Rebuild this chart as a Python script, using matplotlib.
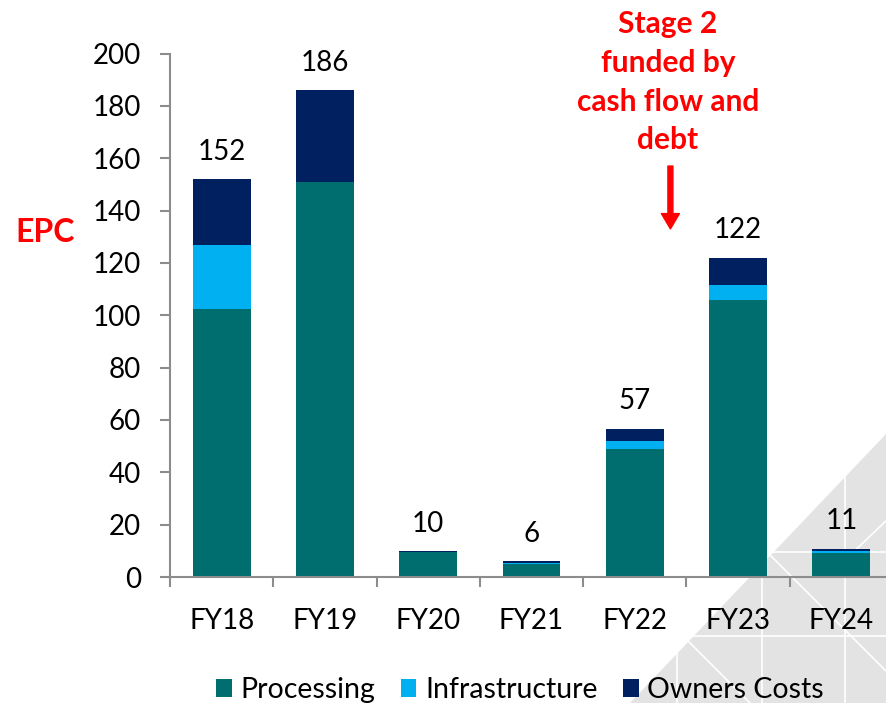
import matplotlib
matplotlib.use("Agg")
import matplotlib.pyplot as plt
import numpy as np

plt.rcParams["font.family"] = ["Lato", "DejaVu Sans"]

# DATA
years = ["FY18", "FY19", "FY20", "FY21", "FY22", "FY23", "FY24"]
processing = [102.5, 151.0, 9.7, 5.1, 49.0, 106.0, 9.3]
infrastructure = [24.5, 0.0, 0.0, 0.3, 2.9, 5.7, 0.5]
owners_costs = [25.0, 35.0, 0.2, 0.6, 4.7, 10.3, 1.0]

C_PROC = "#006D6F"
C_INFRA = "#00B0F0"
C_OWN = "#002060"
W, H = 887, 703

fig = plt.figure(figsize=(W / 100, H / 100), dpi=100)

# background decoration in pixel coords (light grey triangle, thin white lines)
bg = fig.add_axes([0, 0, 1, 1], zorder=0)
bg.set_xlim(0, W)
bg.set_ylim(H, 0)
bg.axis("off")
bg.fill([630, 887, 887], [703, 433, 703], color="#E3E3E3", lw=0)
for (x0, y0), (x1, y1) in [((767, 552), (887, 552)), ((683, 636), (887, 636)),
                           ((845, 477), (845, 703)), ((762, 552), (762, 703)),
                           ((677, 636), (677, 703)), ((767, 552), (887, 672)),
                           ((683, 636), (750, 703)), ((845, 560), (887, 520))]:
    bg.plot([x0, x1], [y0, y1], color="white", lw=1.2)

ax = fig.add_axes([170 / W, 1 - 577 / H, (893 - 170) / W, (577 - 53.5) / H], zorder=2)
ax.set_facecolor("none")

x = np.arange(len(years))
bw = 0.56
proc = np.array(processing)
infra = np.array(infrastructure)
own = np.array(owners_costs)
ax.bar(x, proc, bw, color=C_PROC, label="Processing", zorder=2)
ax.bar(x, infra, bw, bottom=proc, color=C_INFRA, label="Infrastructure", zorder=2)
ax.bar(x, own, bw, bottom=proc + infra, color=C_OWN, label="Owners Costs", zorder=2)

totals = proc + infra + own
for xi, t in zip(x, totals):
    ax.text(xi, t + 10.5, f"{t:.0f}", ha="center", va="center", fontsize=20, color="black")

ax.set_xlim(-0.5, len(years) - 0.5)
ax.set_ylim(0, 200)
ax.set_yticks(range(0, 201, 20))
ax.set_xticks(x)
ax.set_xticklabels(years)
ax.set_xticks(np.arange(-0.5, len(years), 1.0), minor=True)

for s in ["top", "right"]:
    ax.spines[s].set_visible(False)
for s in ["left", "bottom"]:
    ax.spines[s].set_color("#8C8C8C")
    ax.spines[s].set_linewidth(1.5)

ax.tick_params(axis="y", length=7, width=1.5, color="#8C8C8C", pad=14, labelsize=20)
ax.tick_params(axis="x", which="major", length=0, pad=22, labelsize=20)
ax.tick_params(axis="x", which="minor", length=7, width=1.5, color="#8C8C8C")

fig.text(45 / W, 1 - 232 / H, "EPC", color="#FF0000", fontsize=23, fontweight="bold",
         ha="center", va="center", zorder=3)

fig.text(668 / W, 1 - 10 / H, "Stage 2\nfunded by\ncash flow and\ndebt", color="#FF0000",
         fontsize=21.5, fontweight="bold", ha="center", va="top", linespacing=1.47, zorder=3)

ax.annotate("", xy=(4.345, 133), xytext=(4.345, 157),
            arrowprops=dict(arrowstyle="simple,head_length=0.55,head_width=0.65,tail_width=0.18",
                            color="#FF0000", mutation_scale=20, shrinkA=0, shrinkB=0))

leg = fig.legend(loc="center", bbox_to_anchor=(520 / W, 1 - 690 / H), ncol=3, frameon=False,
                 fontsize=20.5, handlelength=0.55, handleheight=0.55, handletextpad=0.3,
                 columnspacing=0.9, borderpad=0)
leg.set_zorder(3)

fig.savefig("out.png", dpi=100)
